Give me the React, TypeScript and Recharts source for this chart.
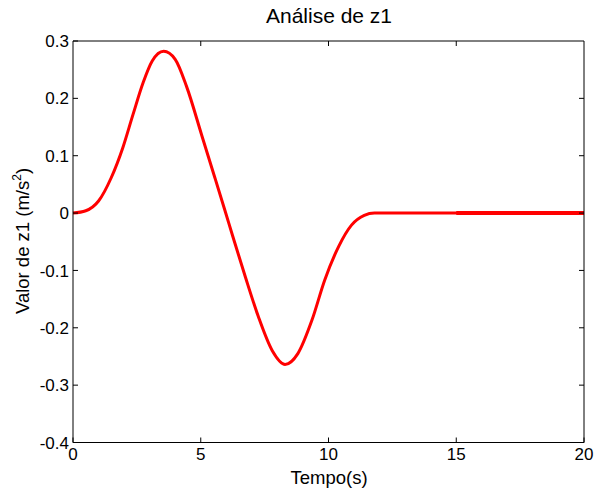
import { LineChart, Line, XAxis, YAxis } from 'recharts';

// leituras do gráfico original (tempo em s, z1 em m/s^2)
const tempo = [0, 0.5, 1.0, 1.5, 1.95, 2.35, 2.75, 3.1, 3.55, 4.0, 4.45, 5.05, 5.55, 5.95, 6.25, 6.75, 7.25, 7.8, 8.3, 8.8, 9.35, 9.85, 10.4, 10.9, 11.4, 11.8, 13, 15, 17.5, 20];
const z1 = [0, 0.004, 0.021, 0.062, 0.114, 0.172, 0.228, 0.265, 0.282, 0.268, 0.22, 0.134, 0.062, 0.004, -0.04, -0.112, -0.18, -0.24, -0.264, -0.245, -0.187, -0.117, -0.058, -0.021, -0.004, 0, 0, 0, 0, 0];
// trecho final desenhado mais grosso no original (t >= 15)
const tempoFinal = [15, 17.5, 20];
const z1Final = [0, 0, 0];

const xTicks = [0, 5, 10, 15, 20];
const yTicks = [-0.4, -0.3, -0.2, -0.1, 0, 0.1, 0.2, 0.3];

const data = tempo.map((t, i) => {
  const j = tempoFinal.indexOf(t);
  return { t, z: z1[i], zf: j >= 0 ? z1Final[j] : null };
});

const font = '"Liberation Sans", Arial, Helvetica, sans-serif';
const fmt = (v: number) => String(Math.round(v * 10) / 10);

const LeftTick = (p: any) => {
  const ax = p.x + 3;
  return (
    <g>
      <line x1={ax} x2={ax + 5} y1={p.y} y2={p.y} stroke="#000" />
      <text x={p.x - 1} y={p.y} dy="0.36em" textAnchor="end" fontSize={17} fontFamily={font} fill="#000">
        {fmt(p.payload.value)}
      </text>
    </g>
  );
};

const BottomTick = (p: any) => {
  const ay = p.y - 5;
  return (
    <g>
      <line x1={p.x} x2={p.x} y1={ay} y2={ay - 5} stroke="#000" />
      <text x={p.x} y={p.y} dy="0.72em" textAnchor="middle" fontSize={17} fontFamily={font} fill="#000">
        {fmt(p.payload.value)}
      </text>
    </g>
  );
};

const RightTick = (p: any) => {
  const ax = p.x - 3;
  return <line x1={ax} x2={ax - 5} y1={p.y} y2={p.y} stroke="#000" />;
};

const TopTick = (p: any) => {
  const ay = p.y + 3;
  return <line x1={p.x} x2={p.x} y1={ay} y2={ay + 5} stroke="#000" />;
};

export default function App() {
  return (
    <div style={{ position: 'relative', width: 596, height: 488, background: '#fff', fontFamily: font }}>
      <style>{`body{margin:0}`}</style>
      <LineChart width={596} height={488} data={data} margin={{ top: 40, right: 11, bottom: 15.5, left: 13 }}>
        <XAxis
          xAxisId="b"
          dataKey="t"
          type="number"
          domain={[0, 20]}
          ticks={xTicks}
          tickLine={false}
          tickSize={0}
          tickMargin={5}
          height={30}
          stroke="#000"
          tick={BottomTick}
          interval={0}
        />
        <XAxis
          xAxisId="t"
          dataKey="t"
          type="number"
          orientation="top"
          domain={[0, 20]}
          ticks={xTicks.slice(1, -1)}
          tickLine={false}
          tickSize={0}
          tickMargin={3}
          tick={TopTick}
          height={1}
          stroke="#000"
          interval={0}
        />
        <YAxis
          yAxisId="l"
          type="number"
          domain={[-0.4, 0.3]}
          ticks={yTicks}
          tickLine={false}
          tickSize={0}
          tickMargin={3}
          width={60}
          stroke="#000"
          tick={LeftTick}
          interval={0}
        />
        <YAxis
          yAxisId="r"
          type="number"
          orientation="right"
          domain={[-0.4, 0.3]}
          ticks={yTicks.slice(1, -1)}
          tickLine={false}
          tickSize={0}
          tickMargin={3}
          tick={RightTick}
          width={1}
          stroke="#000"
          interval={0}
        />
        <Line
          xAxisId="t"
          yAxisId="r"
          dataKey="z"
          stroke="none"
          dot={false}
          activeDot={false}
          legendType="none"
          isAnimationActive={false}
        />
        <Line
          xAxisId="b"
          yAxisId="l"
          type="monotone"
          dataKey="z"
          stroke="#ff0000"
          strokeWidth={3}
          dot={false}
          isAnimationActive={false}
        />
        <Line
          xAxisId="b"
          yAxisId="l"
          type="linear"
          dataKey="zf"
          stroke="#ff0000"
          strokeWidth={4}
          dot={false}
          connectNulls
          isAnimationActive={false}
        />
      </LineChart>
      <div style={{ position: 'absolute', left: 73, width: 512, top: 4, textAlign: 'center', fontSize: 21, color: '#000' }}>
        Análise de z1
      </div>
      <div style={{ position: 'absolute', left: 73, width: 512, top: 467, textAlign: 'center', fontSize: 18.5, color: '#000' }}>
        Tempo(s)
      </div>
      <div
        style={{
          position: 'absolute',
          left: 22,
          top: 241,
          transform: 'translate(-50%, -50%) rotate(-90deg)',
          whiteSpace: 'nowrap',
          fontSize: 18.5,
          color: '#000',
        }}
      >
        Valor de z1 (m/s<sup style={{ fontSize: 12 }}>2</sup>)
      </div>
    </div>
  );
}
